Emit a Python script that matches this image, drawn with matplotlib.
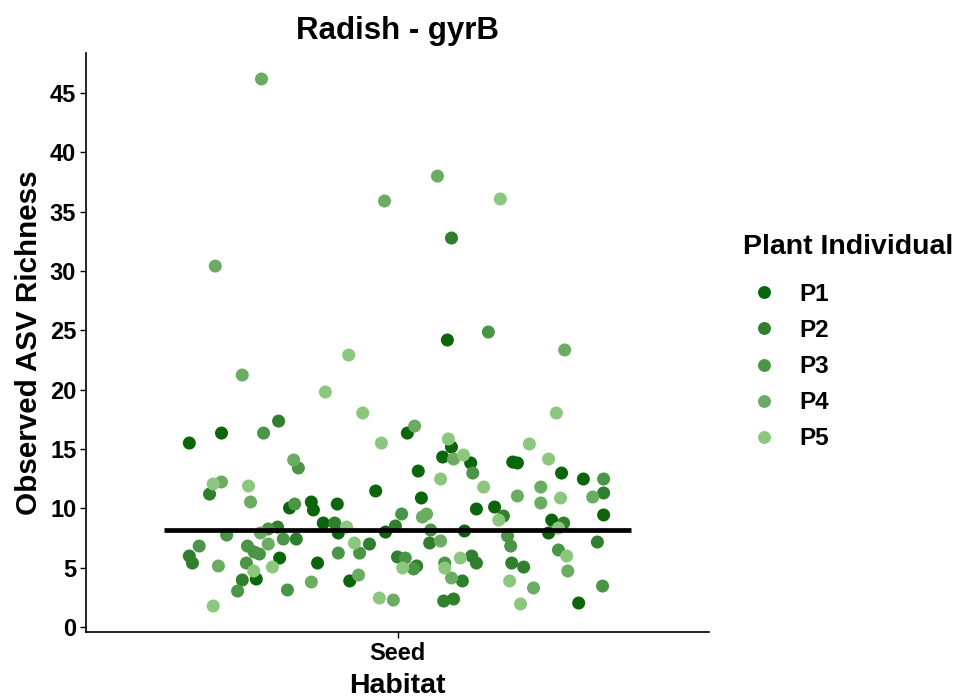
import matplotlib
matplotlib.use("Agg")
import matplotlib.pyplot as plt
from matplotlib.lines import Line2D

plt.rcParams['font.family'] = ['Liberation Sans', 'DejaVu Sans']
plt.rcParams['font.weight'] = 'bold'

# jittered x position (category "Seed" sits at 1) and observed richness
p1_x = [0.599, 0.661, 0.958, 0.792, 0.834, 0.838, 0.884, 0.857, 0.773, 0.728, 0.846, 0.886, 0.908, 0.977,
        1.096, 1.019, 1.104, 1.087, 1.141, 1.040, 1.222, 1.231, 1.316, 1.358, 1.046, 1.152, 1.187, 1.129,
        1.297, 1.291, 1.349, 1.397]
p1_y = [15.50, 16.34, 11.46, 10.03, 10.53, 9.86, 10.36, 8.76, 5.81, 4.04, 5.39, 7.92, 3.88, 8.00,
        24.18, 16.34, 15.16, 14.32, 13.82, 13.14, 13.90, 13.82, 12.97, 12.47, 10.87, 9.94, 10.11, 8.09,
        9.01, 7.92, 2.02, 9.44]

p2_x = [1.104, 0.771, 0.638, 0.879, 0.769, 0.599, 0.605, 0.805, 0.701, 0.946, 1.000,
        1.397, 1.204, 0.996, 1.320, 1.062, 1.385, 1.037, 1.143, 1.152, 1.220, 1.243, 1.125, 1.089, 1.108]
p2_y = [32.77, 17.35, 11.20, 8.76, 8.42, 5.98, 5.39, 7.41, 3.96, 6.99, 5.90,
        11.29, 9.35, 8.51, 8.76, 7.08, 7.16, 5.14, 5.98, 5.39, 5.39, 5.05, 3.88, 2.19, 2.36]

p3_x = [1.175, 0.742, 0.809, 0.802, 0.751, 0.671, 0.618, 0.711, 0.724, 0.734, 0.780, 0.709, 0.692, 0.788,
        0.886, 0.927, 1.145, 1.397, 1.008, 1.064, 1.212, 1.218, 1.310, 1.015, 1.031, 1.091, 1.395]
p3_y = [24.85, 16.34, 13.40, 10.36, 8.26, 7.75, 6.82, 6.82, 6.32, 6.15, 7.41, 5.39, 3.03, 3.12,
        6.23, 6.23, 12.97, 12.47, 9.52, 8.17, 7.67, 6.82, 6.49, 5.81, 4.89, 5.39, 3.45]

p4_x = [0.738, 0.649, 0.701, 0.975, 1.077, 1.322, 0.800, 0.661, 0.717, 0.736, 0.655, 0.751, 0.834, 0.925,
        0.992, 1.033, 1.108, 1.376, 1.276, 1.276, 1.231, 1.056, 1.048, 1.083, 1.328, 1.104, 1.262]
p4_y = [46.17, 30.41, 21.23, 35.89, 37.99, 23.34, 14.07, 12.22, 10.53, 7.92, 5.14, 6.99, 3.79, 4.38,
        2.27, 16.93, 14.15, 10.95, 11.79, 10.45, 11.04, 9.52, 9.27, 7.25, 4.72, 4.13, 3.29]

p5_x = [1.198, 0.906, 0.861, 0.933, 0.969, 0.645, 0.713, 0.902, 0.723, 0.759, 0.917, 0.965, 0.645,
        1.306, 1.098, 1.127, 1.083, 1.166, 1.254, 1.291, 1.314, 1.195, 1.310, 1.326, 1.010, 1.091,
        1.121, 1.216, 1.237]
p5_y = [36.06, 22.91, 19.80, 18.03, 15.50, 12.05, 11.88, 8.42, 4.72, 5.05, 7.08, 2.44, 1.77,
        18.03, 15.84, 14.49, 12.47, 11.79, 15.42, 14.15, 10.87, 9.01, 8.34, 5.98, 4.97, 4.97,
        5.81, 3.88, 1.94]

mean_richness = 8.15
groups = ['P1', 'P2', 'P3', 'P4', 'P5']
xs = [p1_x, p2_x, p3_x, p4_x, p5_x]
ys = [p1_y, p2_y, p3_y, p4_y, p5_y]
colors = ['#0b650b', '#2f7f2c', '#4b9646', '#6aad62', '#8bc87e']

fig = plt.figure(figsize=(9.67, 6.99), dpi=100)
ax = fig.add_axes([86/967, 67/699, 623/967, 579/699])

for x, y, c in zip(xs, ys, colors):
    ax.scatter(x, y, s=88, color=c, edgecolors='none', zorder=2)

ax.hlines(mean_richness, 1 - 0.45, 1 + 0.45, color='black', linewidth=3.4, zorder=3)

ax.set_xlim(0.4, 1.6)
ax.set_ylim(-0.42, 48.36)
ax.set_xticks([1])
ax.set_xticklabels(['Seed'])
ax.set_yticks(range(0, 50, 5))
ax.tick_params(labelsize=17, width=1, length=4, colors='black', pad=3)
for s in ['top', 'right']:
    ax.spines[s].set_visible(False)
for s in ['left', 'bottom']:
    ax.spines[s].set_linewidth(1.2)

ax.set_title('Radish - gyrB', fontsize=22.5, fontweight='bold', pad=10)
ax.set_xlabel('Habitat', fontsize=20.5, fontweight='bold', labelpad=6)
ax.set_ylabel('Observed ASV Richness', fontsize=21.3, fontweight='bold', labelpad=5)

# legend: title as its own text so the gap to the keys matches
fig.text(743/967, 1 - 247/699, 'Plant Individual', fontsize=20.5, fontweight='bold',
         ha='left', va='center')
handles = [Line2D([], [], marker='o', linestyle='none', markersize=9.3, color=c, markeredgewidth=0)
           for c in colors]
leg = fig.legend(handles, groups, loc='upper left', bbox_to_anchor=(724/967, 1 - 261/699),
                 frameon=False, fontsize=17.5,
                 labelspacing=0.54, handletextpad=0.7, handlelength=1.5)

fig.savefig('out.png', dpi=100)
